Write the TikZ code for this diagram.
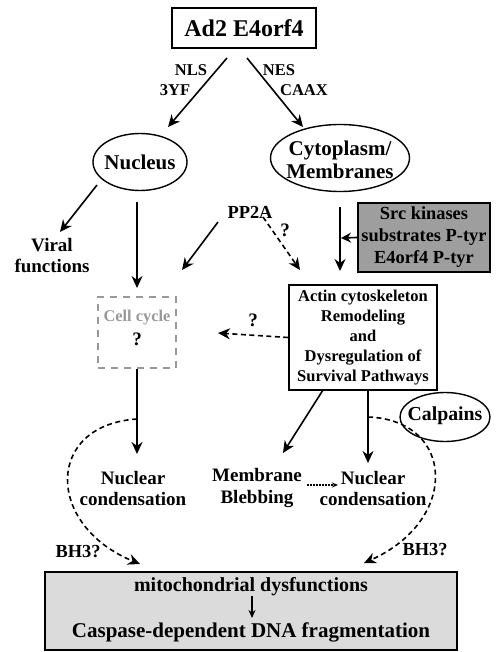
\documentclass[tikz,border=0pt]{standalone}
\usepackage{fontspec}
\setmainfont{Liberation Serif}
\usetikzlibrary{arrows.meta}
\begin{document}
\begin{tikzpicture}[x=1pt,y=-1pt,
  lbl/.style={font=\bfseries\fontsize{19}{21}\selectfont, align=center, inner sep=0pt},
  sm/.style={font=\bfseries\fontsize{16.5}{20}\selectfont, align=center, inner sep=0pt},
  arr/.style={line width=1.6pt, -{Stealth[length=12pt,width=11pt]}},
  darr/.style={arr, dash pattern=on 5pt off 3.5pt},
  box/.style={draw, line width=1.5pt, inner sep=0pt},
  oval/.style={line width=1.4pt}
]
\useasboundingbox (0,0) rectangle (495,652);

% top box
\node[box, minimum width=144pt, minimum height=40pt, font=\bfseries\fontsize{24}{28}\selectfont] (ad2) at (244,28) {Ad2 E4orf4};

% ellipses
\node[lbl, font=\bfseries\fontsize{21}{23}\selectfont] (nuc) at (140,162) {Nucleus};
\draw[oval] (nuc.center) ellipse [x radius=47, y radius=28.5];
\node[lbl, font=\bfseries\fontsize{21}{23}\selectfont] (cyto) at (340,160) {Cytoplasm/\\Membranes};
\draw[oval] (340,158) ellipse [x radius=69.5, y radius=33.5];
\node[lbl, font=\bfseries\fontsize{19.8}{22}\selectfont] (calp) at (445,416) {Calpains};
\draw[oval] (445,417) ellipse [x radius=45, y radius=24.5];

% labels on top arrows
\node[sm] (nls) at (191,70) {NLS};
\node[sm] (yf) at (175,90) {3YF};
\node[sm] (nes) at (279,70) {NES};
\node[sm] (caax) at (304,90) {CAAX};

% other labels
\node[lbl] (viral) at (52,256) {Viral\\functions};
\node[lbl, font=\bfseries\fontsize{18.4}{21}\selectfont] (pp2a) at (250,212) {PP2A};
\node[lbl] (q1) at (285,230) {?};
\node[lbl] (q2) at (253,320) {?};

% src box
\node[box, fill=black!38, minimum width=132pt, minimum height=69pt,
      font=\bfseries\fontsize{18.4}{22}\selectfont, align=center] (src) at (424,237.5)
      {Src kinases\\substrates P-tyr\\E4orf4 P-tyr};

% actin box
\node[box, sm, minimum width=148pt, minimum height=105pt] (actin) at (363,337.5)
      {Actin cytoskeleton\\Remodeling\\and\\Dysregulation of\\Survival Pathways};

% cell cycle box
\node[draw=black!40, line width=1.6pt, dash pattern=on 7pt off 6pt,
      minimum width=78pt, minimum height=71pt, inner sep=0pt] (cc) at (137,332.5) {};
\node[sm, text=black!40, font=\bfseries\fontsize{16.4}{20}\selectfont] (cct) at (137,318) {Cell cycle};
\node[lbl] (ccq) at (137,339) {?};

% outcome labels
\node[lbl] (nc1) at (133,488) {Nuclear\\condensation};
\node[lbl] (mb) at (257,488) {Membrane\\Blebbing};
\node[lbl] (nc2) at (373,488) {Nuclear\\condensation};
\node[lbl, font=\bfseries\fontsize{18.4}{21}\selectfont] (bh3l) at (78,552) {BH3?};
\node[lbl, font=\bfseries\fontsize{18.4}{21}\selectfont] (bh3r) at (425,550) {BH3?};

% bottom box
\node[box, fill=black!14, minimum width=412pt, minimum height=78pt] (bot) at (251,611) {};
\node[lbl, font=\bfseries\fontsize{20}{22}\selectfont] (mito) at (251,587) {mitochondrial dysfunctions};
\node[lbl, font=\bfseries\fontsize{21}{23}\selectfont] (casp) at (251,632) {Caspase-dependent DNA fragmentation};
\draw[line width=1.4pt, -{Stealth[length=8pt,width=7pt]}] (252,596) -- (252,618);

% coordinates
\coordinate (a1s) at (227,58);  \coordinate (a1e) at (168,127);
\coordinate (a2s) at (247,58);  \coordinate (a2e) at (303,127);
\coordinate (nvS) at (97,185);  \coordinate (nvE) at (60,232);
\coordinate (ncS) at (137,202); \coordinate (ncE) at (137,288);
\coordinate (ppS) at (218,222); \coordinate (ppE) at (182,270);
\coordinate (pdS) at (263,217); \coordinate (pdE) at (300,270);
\coordinate (cyS) at (340,207); \coordinate (cyE) at (340,271);
\coordinate (srcE) at (341,238);
\coordinate (acE) at (218,333);
\coordinate (c1E) at (137,454);
\coordinate (mbS) at (323,390); \coordinate (mbE) at (283,453);
\coordinate (n2S) at (368,390); \coordinate (n2E) at (368,463);
\coordinate (dotS) at (307,485); \coordinate (dotE) at (338,485);
\coordinate (lcS) at (137,419); \coordinate (lcE) at (140,564);
\coordinate (rcS) at (368,417); \coordinate (rcE) at (364,563);

% arrows
\draw[arr] (a1s) -- (a1e);
\draw[arr] (a2s) -- (a2e);
\draw[arr] (nvS) -- (nvE);
\draw[arr] (ncS) -- (ncE);
\draw[arr] (ppS) -- (ppE);
\draw[darr] (pdS) -- (pdE);
\draw[arr] (cyS) -- (cyE);
\draw[line width=1.6pt, -{Stealth[length=10pt,width=10pt]}] (src.west) -- (srcE);
\draw[darr] (actin.west) -- (acE);
\draw[arr] (cc.south) -- (c1E);
\draw[arr] (mbS) -- (mbE);
\draw[arr] (n2S) -- (n2E);
\draw[line width=1.5pt, dash pattern=on 1.5pt off 1.5pt, -{Stealth[length=6pt,width=5pt]}] (dotS) -- (dotE);
\draw[darr] (lcS) .. controls (45,425) and (45,525) .. (lcE);
\draw[darr] (rcS) .. controls (455,420) and (460,520) .. (rcE);
\end{tikzpicture}
\end{document}
